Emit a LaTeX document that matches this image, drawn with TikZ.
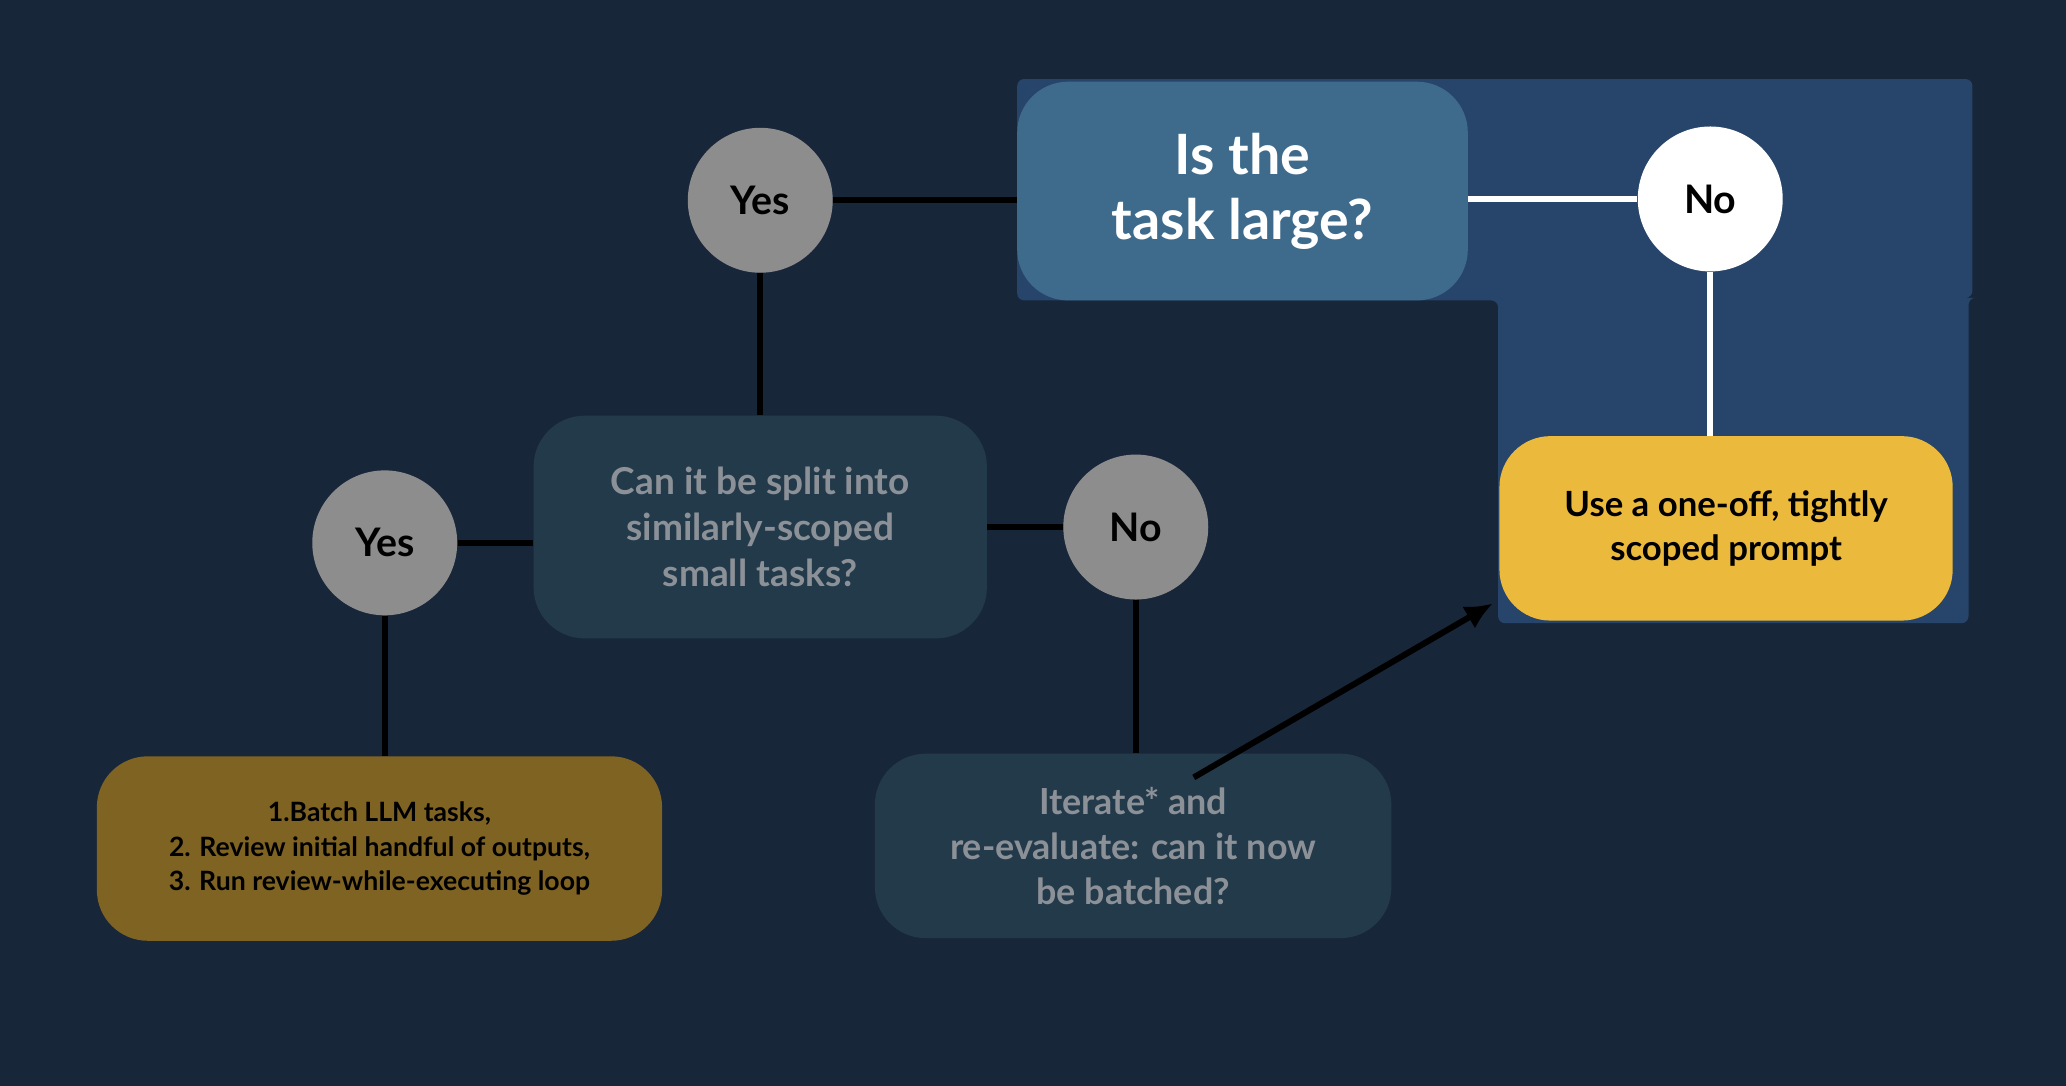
\documentclass[tikz,border=0pt]{standalone}
\usepackage{fontspec}
\setmainfont{Lato}
\usetikzlibrary{arrows.meta}
\definecolor{bg}{HTML}{18263A}
\definecolor{hl}{HTML}{27456A}
\definecolor{q1}{HTML}{3E6B8C}
\definecolor{q2}{HTML}{233A4B}
\definecolor{qt}{HTML}{8C9198}
\definecolor{circ}{HTML}{8D8D8D}
\definecolor{brown}{HTML}{7F6322}
\definecolor{gold}{HTML}{EBB93C}
\begin{document}
\begin{tikzpicture}[x=0.02cm,y=-0.02cm,
  box/.style={rounded corners=22pt,inner sep=0pt,align=center,font=\bfseries},
  circ/.style={circle,minimum size=110*0.02cm,inner sep=0pt,font=\bfseries\fontsize{17}{20}\selectfont},
  ln/.style={line width=2.6pt,circ}]
\fill[bg] (0,0) rectangle (1568,824);
\useasboundingbox (0,0) rectangle (1568,824);
\fill[hl,rounded corners=3pt] (772,60) -- (1497,60) -- (1497,226) -- (1494,226) -- (1494,473) -- (1137,473) -- (1137,228) -- (772,228) -- cycle;
\node[box,fill=q1,text=white,minimum width=342*0.02cm,minimum height=166*0.02cm,font=\bfseries\fontsize{24}{28}\selectfont] (large) at (943,145) {Is the\\task large?};
\node[circ,fill=circ] (yes1) at (577,152) {Yes};
\node[circ,fill=white] (no1) at (1298,151) {No};
\node[box,fill=q2,text=qt,minimum width=344*0.02cm,minimum height=169*0.02cm,font=\bfseries\fontsize{16}{20}\selectfont] (split) at (577,400) {Can it be split into\\similarly-scoped\\small tasks?};
\node[circ,fill=circ] (yes2) at (292,412) {Yes};
\node[circ,fill=circ] (no2) at (862,400) {No};
\node[box,fill=brown,text=black,minimum width=429*0.02cm,minimum height=140*0.02cm,font=\bfseries\fontsize{11.5}{15}\selectfont] (batch) at (288,644) {1.Batch LLM tasks,\\2. Review initial handful of outputs,\\3. Run review-while-executing loop};
\node[box,fill=q2,text=qt,minimum width=392*0.02cm,minimum height=140*0.02cm,font=\bfseries\fontsize{15.5}{19.5}\selectfont] (iter) at (860,642) {Iterate* and\\re-evaluate: can it now\\be batched?};
\node[box,fill=gold,text=black,minimum width=344*0.02cm,minimum height=140*0.02cm,font=\bfseries\fontsize{15}{19}\selectfont] (oneoff) at (1310,401) {Use a one-off, tightly\\scoped prompt};
\coordinate (as) at (906,590);
\coordinate (ae) at (1133,458);
\draw[ln] (yes1.east) -- (large.west|-yes1.east);
\draw[ln,white] (large.east|-no1.west) -- (no1.west);
\draw[ln,white] (no1.south) -- (oneoff.north-|no1.south);
\draw[ln] (yes1.south) -- (split.north-|yes1.south);
\draw[ln] (yes2.east) -- (split.west|-yes2.east);
\draw[ln] (split.east|-no2.west) -- (no2.west);
\draw[ln] (yes2.south) -- (batch.north-|yes2.south);
\draw[ln] (no2.south) -- (iter.north-|no2.south);
\draw[ln,-{Latex[length=12pt,width=11pt]}] (as) -- (ae);
\end{tikzpicture}
\end{document}
